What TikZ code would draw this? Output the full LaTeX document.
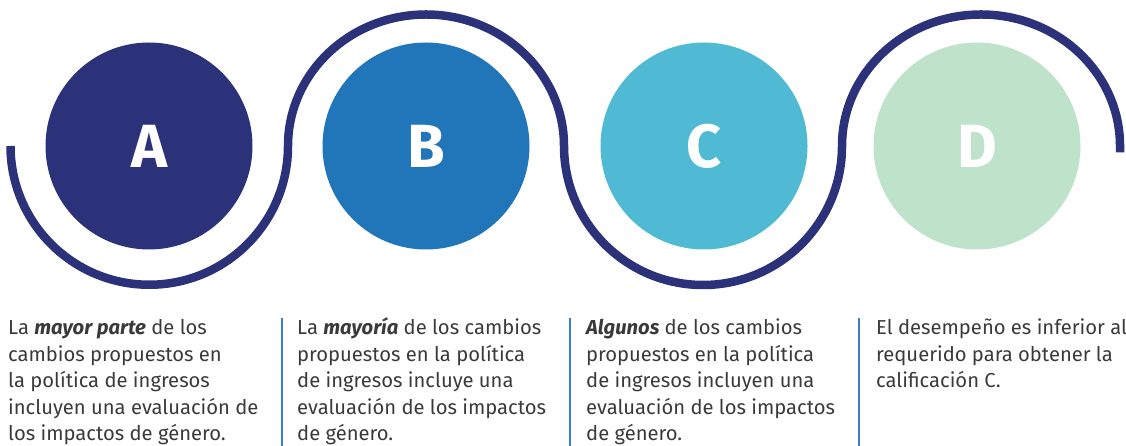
\documentclass[tikz,border=0pt]{standalone}
\usepackage{fontspec}
\setmainfont{Fira Sans}
\usepackage{tikz}

\definecolor{navy}{HTML}{2C3279}
\definecolor{midblue}{HTML}{2175B9}
\definecolor{skyblue}{HTML}{50B9D3}
\definecolor{mint}{HTML}{BFE2CA}
\definecolor{rulecol}{HTML}{3A80C2}
\definecolor{bodytext}{HTML}{3A3A3A}

\begin{document}
\begin{tikzpicture}[x=1pt,y=1pt]

\tikzstyle{every node}=[inner sep=0pt]
\tikzstyle{grade}=[circle, minimum size=207pt, text=white, font=\fontsize{61}{61}\selectfont\bfseries]
\tikzstyle{blurb}=[anchor=base west, align=left, text=bodytext, font=\fontsize{20.2}{26.5}\selectfont]
\tikzstyle{divider}=[rulecol, line width=1.8pt]

\useasboundingbox (0,0) rectangle (1126,446);

\pgfmathsetmacro\y{300}

\node[grade, fill=navy] (gradeA) at (149,\y) {A};
\node[grade, fill=midblue] (gradeB) at (426,\y) {B};
\node[grade, fill=skyblue] (gradeC) at (704,\y) {C};
\node[grade, fill=mint] (gradeD) at (977,\y) {D};

% wavy line round the circles
\draw[navy, line width=8.5pt] (10.5,\y)
  arc[start angle=180, end angle=360, radius=138.75]
  arc[start angle=180, end angle=0, x radius=138, y radius=131.5]
  arc[start angle=180, end angle=360, radius=139]
  arc[start angle=180, end angle=0, x radius=139, y radius=131.5]
  -- ++(0,-6.5);

% base anchor sits on the last line
\pgfmathsetmacro\y{5}

\node[blurb] (textA) at (8,\y) {La \textbf{\textit{mayor parte}} de los\\cambios propuestos en\\la política de ingresos\\incluyen una evaluación de\\los impactos de género.};
\node[blurb] (textB) at (297,\y) {La \textbf{\textit{mayoría}} de los cambios\\propuestos en la política\\de ingresos incluye una\\evaluación de los impactos\\de género.};
\node[blurb] (textC) at (586,\y) {\textbf{\textit{Algunos}} de los cambios\\propuestos en la política\\de ingresos incluyen una\\evaluación de los impactos\\de género.};
\node[blurb] (textD) at (876,\y+53) {El desempeño es inferior al\\requerido para obtener la\\calificación C.};

\draw[divider] (281.7,128) -- (281.7,0);
\draw[divider] (570,128) -- (570,0);
\draw[divider] (859,128) -- (859,0);

\end{tikzpicture}
\end{document}
